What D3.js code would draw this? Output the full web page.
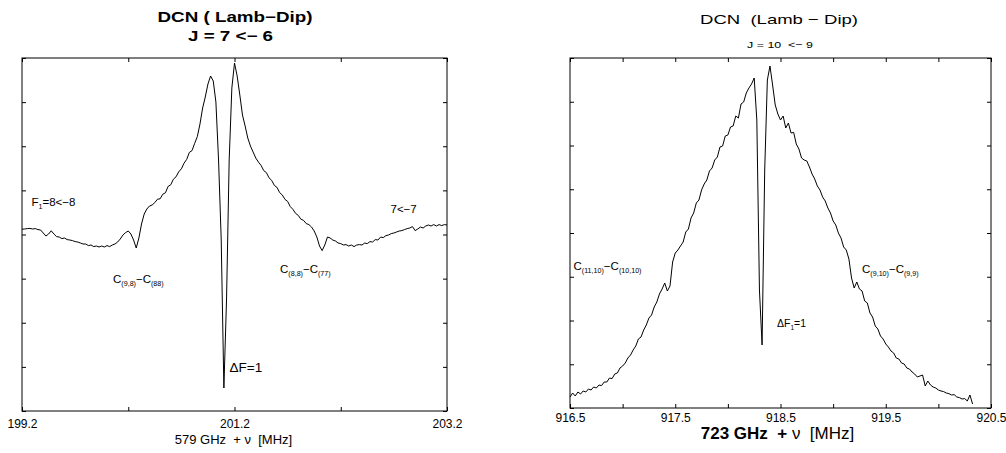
<!DOCTYPE html>
<html>
<head>
<meta charset="utf-8">
<script src="https://cdn.jsdelivr.net/npm/d3@7"></script>
<style>
  body { margin: 0; background: #fff; }
  svg text { font-family: "Liberation Sans", Arial, sans-serif; fill: #000; white-space: pre; }
</style>
</head>
<body>
<svg id="chart" width="1006" height="453"></svg>
<script>
// J = 7 <- 6 scan, sampled every 0.025 MHz from 199.2 MHz (arb. units)
var leftStart = 199.2, leftStep = 0.025;
var leftSignal = [
  90.9, 91, 91.2, 91.3, 91, 91.2, 90.7, 90.5, 89, 87.5,
  88.5, 90.1, 88.5, 87.2, 87, 86.2, 86.5, 85.7, 85.5, 85.2,
  84.7, 84.5, 84, 83.5, 83.5, 82.7, 83, 82.2, 82.5, 82,
  82.5, 82, 82.7, 82.2, 83, 83.5, 84.5, 86, 88, 89.2,
  90, 88.5, 85.5, 81.5, 86.5, 93.5, 98.5, 101, 102.5, 103,
  104.2, 105.9, 106.1, 108.4, 109.1, 112.3, 113.1, 115.9, 117.1, 119.6,
  121.1, 123.9, 125.8, 129.3, 130.2, 133.8, 137.2, 143.5, 151.5, 157,
  163.5, 167.5, 165, 154.5, 125.5, 85.5, 11.5, 55.5, 125.5, 161.5,
  174, 167.5, 158, 148, 142.5, 136.5, 132.5, 129.5, 126.5, 124.5,
  122.8, 120.2, 119.2, 116.6, 115.3, 112.8, 111.8, 109.2, 108, 105.8,
  104.8, 102.2, 100.8, 98.8, 97.8, 95.9, 95.3, 93.7, 93.2, 92,
  90, 87, 82.5, 80.2, 83, 87, 86.5, 85.5, 85, 84,
  83.7, 83, 83.2, 82.5, 83, 82.2, 83, 83.2, 83, 84,
  83.7, 84.7, 84.5, 85.7, 85.5, 87, 86.7, 87.7, 88, 88.7,
  89, 89.5, 90, 90.2, 90.7, 91.2, 91.5, 92.2, 90.2, 91,
  92, 91.5, 92.5, 93, 92.5, 93.2, 92.5, 93.2, 92.7, 93.2,
  93
];

// J = 10 <- 9 scan, sampled every 0.025 MHz from 916.5 MHz (arb. units)
var rightStart = 916.5, rightStep = 0.025;
var rightSignal = [
  5.5, 7.5, 6, 8, 7, 8.5, 8, 9.5, 9, 10.5,
  10, 11.5, 11.2, 13, 13, 15, 14.7, 17, 17.5, 20,
  21, 22.5, 25, 26.5, 29, 31, 34.5, 35.5, 39, 41.5,
  45, 46.5, 50.5, 53, 57, 59.5, 62.5, 58.5, 61, 73,
  77.5, 79, 81, 83, 88, 89.5, 95, 97.5, 102.5, 104,
  109, 112, 114, 118.5, 120, 124, 125.5, 130.5, 131, 136,
  136.5, 140.5, 141, 146, 145, 152, 153, 157.5, 160, 162,
  165, 144, 59, 31.5, 119, 164, 171, 161.5, 151.5, 147,
  144, 146, 140, 142.5, 137.5, 137.8, 132, 129.5, 125, 124,
  123.5, 120.5, 117, 114.5, 111, 109, 105.5, 103.5, 100, 97.5,
  93.5, 91.5, 87.5, 85, 80.5, 79, 74.5, 65, 60, 63,
  59.5, 58.5, 53.5, 52.5, 47.5, 45.5, 41, 39.5, 36, 34.5,
  32, 30.5, 28.5, 27.5, 25, 24.5, 22.5, 22, 20, 19.5,
  18, 17, 15.5, 16, 16.5, 11, 13.5, 11.5, 10.5, 10,
  9, 8.5, 8.2, 7.5, 7.2, 6.5, 6.7, 5.5, 5.2, 4.5,
  4.7, 3.5, 6.5, 2
];

var leftTicks = [199.2, 200.2, 201.2, 202.2, 203.2];
var leftTickLabels = ["199.2", "", "201.2", "", "203.2"];
var rightTicks = [916.5, 917, 917.5, 918, 918.5, 919, 919.5, 920, 920.5];
var rightTickLabels = ["916.5", "", "917.5", "", "918.5", "", "919.5", "", "920.5"];

var svg = d3.select("#chart");

var panels = [
  {box: {left: 22, right: 447, top: 58, bottom: 411}, xDomain: [199.2, 203.2], yMax: 176.5,
   start: leftStart, step: leftStep, signal: leftSignal, ticks: leftTicks, labels: leftTickLabels, pad: 8.5},
  {box: {left: 570, right: 991, top: 58, bottom: 408}, xDomain: [916.5, 920.5], yMax: 175,
   start: rightStart, step: rightStep, signal: rightSignal, ticks: rightTicks, labels: rightTickLabels, pad: 5.5}
];

panels.forEach(function (p) {
  var b = p.box;
  var x = d3.scaleLinear().domain(p.xDomain).range([b.left, b.right]);
  var y = d3.scaleLinear().domain([0, p.yMax]).range([b.bottom, b.top]);
  var yTicks = d3.range(9).map(function (k) { return k * p.yMax / 8; });
  var g = svg.append("g");

  g.append("g")
    .attr("transform", "translate(0," + b.bottom + ")")
    .call(d3.axisBottom(x).tickValues(p.ticks).tickSize(-4).tickSizeOuter(0)
      .tickPadding(p.pad).tickFormat(function (d, i) { return p.labels[i]; }))
    .call(function (a) { a.select(".domain").remove(); })
    .attr("font-size", 12).attr("font-family", null);

  g.append("g")
    .attr("transform", "translate(0," + b.top + ")")
    .call(d3.axisTop(x).tickValues(p.ticks).tickSize(-4).tickFormat(""))
    .call(function (a) { a.select(".domain").remove(); });

  g.append("g")
    .attr("transform", "translate(" + b.left + ",0)")
    .call(d3.axisLeft(y).tickValues(yTicks).tickSize(-4).tickFormat(""))
    .call(function (a) { a.select(".domain").remove(); });

  g.append("g")
    .attr("transform", "translate(" + b.right + ",0)")
    .call(d3.axisRight(y).tickValues(yTicks).tickSize(-4).tickFormat(""))
    .call(function (a) { a.select(".domain").remove(); });

  g.append("rect")
    .attr("x", b.left).attr("y", b.top)
    .attr("width", b.right - b.left).attr("height", b.bottom - b.top)
    .attr("fill", "none").attr("stroke", "#000").attr("stroke-width", 1);

  var line = d3.line()
    .x(function (d, i) { return x(p.start + i * p.step); })
    .y(function (d) { return y(d); });

  g.append("path")
    .datum(p.signal)
    .attr("d", line)
    .attr("fill", "none")
    .attr("stroke", "#000")
    .attr("stroke-width", 1)
    .attr("stroke-linejoin", "round");
});

// titles and axis names
function title(x, yb, size, weight, txt, len) {
  var t = svg.append("text")
    .attr("x", x).attr("y", yb)
    .attr("text-anchor", "middle")
    .attr("font-size", size)
    .attr("font-weight", weight)
    .text(txt);
  if (len) t.attr("textLength", len).attr("lengthAdjust", "spacingAndGlyphs");
  return t;
}
title(235, 22, 14.5, "bold", "DCN ( Lamb\u2212Dip)", 155);
title(230.5, 41, 14, "bold", "J = 7 <\u2212 6", 85);
title(779, 24, 13.5, "normal", "DCN  (Lamb \u2212 Dip)", 158);
title(780, 48, 9.5, "normal", "J = 10  <\u2212 9", 66);
title(233.5, 444, 13, "normal", "579 GHz  + \u03bd  [MHz]");

var xl = svg.append("text")
  .attr("x", 777.5).attr("y", 439)
  .attr("text-anchor", "middle")
  .attr("font-size", 17);
xl.append("tspan").attr("font-weight", "bold").text("723 GHz  +");
xl.append("tspan").text(" \u03bd  [MHz]");

// line annotations: plain strings, subscripts as one-element arrays
function label(x, yb, size, parts) {
  var t = svg.append("text").attr("x", x).attr("y", yb).attr("font-size", size);
  var down = false;
  parts.forEach(function (p) {
    var sub = Array.isArray(p);
    var s = t.append("tspan").text(sub ? p[0] : p);
    if (sub) {
      s.attr("font-size", size * 0.62);
      if (!down) s.attr("dy", size * 0.3);
      down = true;
    } else if (down) {
      s.attr("dy", -size * 0.3);
      down = false;
    }
  });
}
label(31.5, 206, 11.5, ["F", ["1"], "=8<\u22128"]);
label(390.5, 213, 11.5, ["7<\u22127"]);
label(113, 283, 11.5, ["C", ["(9,8)"], "\u2212C", ["(88)"]]);
label(280, 273, 11.5, ["C", ["(8,8)"], "\u2212C", ["(77)"]]);
label(229.5, 372, 13.5, ["\u0394F=1"]);
label(573.5, 270, 11.5, ["C", ["(11,10)"], "\u2212C", ["(10,10)"]]);
label(862, 273, 11.5, ["C", ["(9,10)"], "\u2212C", ["(9,9)"]]);
label(777, 327, 10.5, ["\u0394F", ["1"], "=1"]);
</script>
</body>
</html>
